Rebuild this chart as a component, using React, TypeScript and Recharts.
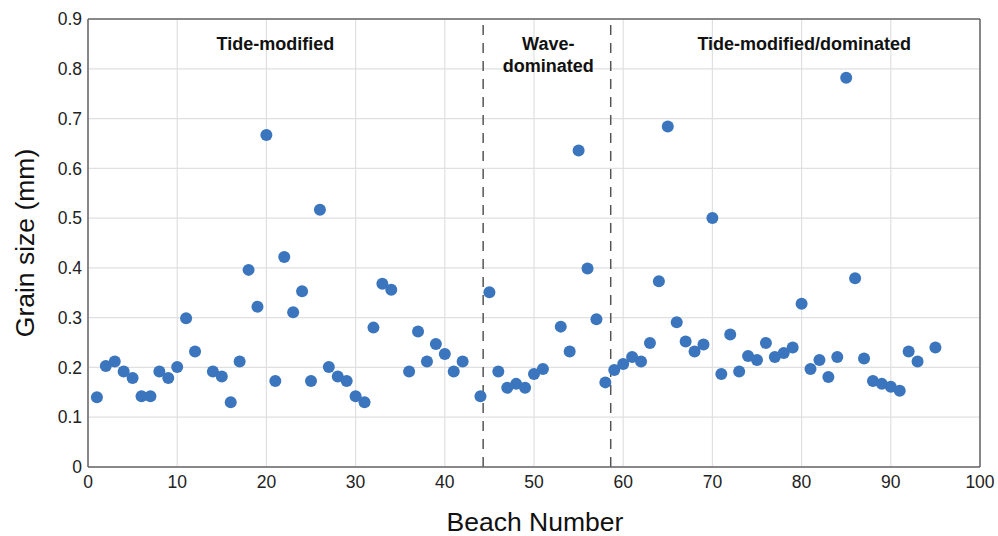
import React from 'react';
import {
  ScatterChart,
  Scatter,
  XAxis,
  YAxis,
  CartesianGrid,
  ReferenceLine,
  ReferenceDot,
  Label,
} from 'recharts';

const beachNumbers = [
  1, 2, 3, 4, 5, 6, 7, 8, 9, 10, 11, 12, 14, 15, 16, 17, 18, 19, 20, 21, 22, 23, 24, 25, 26, 27, 28, 29, 30, 31,
  32, 33, 34, 36, 37, 38, 39, 40, 41, 42, 44, 45, 46, 47, 48, 49, 50, 51, 53, 54, 55, 56, 57, 58, 59, 60, 61, 62,
  63, 64, 65, 66, 67, 68, 69, 70, 71, 72, 73, 74, 75, 76, 77, 78, 79, 80, 81, 82, 83, 84, 85, 86, 87, 88, 89, 90,
  91, 92, 93, 95,
];

const grainSizes = [
  0.14, 0.203, 0.212, 0.192, 0.179, 0.142, 0.142, 0.192, 0.179, 0.201, 0.299, 0.232, 0.192, 0.182, 0.13, 0.212,
  0.396, 0.322, 0.667, 0.173, 0.422, 0.311, 0.353, 0.173, 0.517, 0.201, 0.182, 0.173, 0.142, 0.13,
  0.28, 0.368, 0.356, 0.192, 0.272, 0.212, 0.247, 0.227, 0.192, 0.212, 0.142, 0.351, 0.192, 0.159, 0.167, 0.159,
  0.187, 0.197, 0.282, 0.232, 0.636, 0.399, 0.297, 0.17, 0.195, 0.207, 0.221, 0.212,
  0.249, 0.373, 0.684, 0.291, 0.252, 0.232, 0.246, 0.5, 0.187, 0.266, 0.192, 0.223, 0.215, 0.249, 0.221, 0.229,
  0.24, 0.328, 0.197, 0.215, 0.181, 0.221, 0.782, 0.379, 0.218, 0.173, 0.167, 0.161,
  0.153, 0.232, 0.212, 0.24,
];

const xTicks = [0, 10, 20, 30, 40, 50, 60, 70, 80, 90, 100];
const yTicks = [0, 0.1, 0.2, 0.3, 0.4, 0.5, 0.6, 0.7, 0.8, 0.9];
const yTickLabels = ['0', '0.1', '0.2', '0.3', '0.4', '0.5', '0.6', '0.7', '0.8', '0.9'];

const boundaries = [44.3, 58.6];

const regionLabels = [
  { x: 21, y: 0.85, lines: ['Tide-modified'] },
  { x: 51.6, y: 0.828, lines: ['Wave-', 'dominated'] },
  { x: 80.3, y: 0.85, lines: ['Tide-modified/dominated'] },
];

const data = beachNumbers.map((b, i) => ({ x: b, y: grainSizes[i] }));

const FONT = '"Liberation Sans", Arial, Helvetica, sans-serif';
const DOT = '#3a75bd';

const Dot = (props: any) => {
  const { cx, cy } = props;
  if (cx == null || cy == null) return null;
  return <circle cx={cx} cy={cy} r={6} fill={DOT} />;
};

const makeRegionLabel = (lines: string[]) => (props: any) => {
  const vb = props.viewBox || {};
  const cx = (vb.x ?? 0) + (vb.width ?? 0) / 2;
  const cy = (vb.y ?? 0) + (vb.height ?? 0) / 2;
  const lh = 22;
  const start = cy - ((lines.length - 1) * lh) / 2;
  return (
    <text
      x={cx}
      y={start}
      textAnchor="middle"
      dominantBaseline="central"
      fontFamily={FONT}
      fontWeight="bold"
      fontSize={18}
      fill="#111"
    >
      {lines.map((l, i) => (
        <tspan key={i} x={cx} y={start + i * lh} dominantBaseline="central">
          {l}
        </tspan>
      ))}
    </text>
  );
};

const YTitle = () => (
  <text
    x={25}
    y={243}
    transform="rotate(-90 25 243)"
    textAnchor="middle"
    dominantBaseline="central"
    fontFamily={FONT}
    fontSize={26.5}
    fill="#111"
  >
    Grain size (mm)
  </text>
);

const XTitle = () => (
  <text
    x={535}
    y={522}
    textAnchor="middle"
    dominantBaseline="central"
    fontFamily={FONT}
    fontSize={26.5}
    fill="#111"
  >
    Beach Number
  </text>
);

export default function App() {
  return (
    <div style={{ position: 'absolute', left: 0, top: 0, width: 998, height: 536, background: '#fff' }}>
      <ScatterChart
        width={998}
        height={536}
        margin={{ top: 19, right: 18, bottom: 39, left: 28 }}
        style={{ fontFamily: FONT }}
      >
        <CartesianGrid stroke="#e0e0e0" strokeWidth={1.2} />
        <XAxis
          type="number"
          dataKey="x"
          domain={[0, 100]}
          ticks={xTicks}
          interval={0}
          allowDataOverflow
          height={30}
          tickLine={false}
          tickMargin={3}
          axisLine={{ stroke: '#666', strokeWidth: 1.5 }}
          tick={{ fontSize: 17.5, fill: '#222', fontFamily: FONT }}
        >
          <Label content={<XTitle />} />
        </XAxis>
        <YAxis
          type="number"
          dataKey="y"
          domain={[0, 0.9]}
          ticks={yTicks}
          interval={0}
          allowDataOverflow
          width={60}
          tickLine={false}
          tickMargin={0}
          tickFormatter={(v: number) => yTickLabels[yTicks.indexOf(v)] ?? String(v)}
          axisLine={{ stroke: '#666', strokeWidth: 1.5 }}
          tick={{ fontSize: 17.5, fill: '#222', fontFamily: FONT }}
        >
          <Label content={<YTitle />} />
        </YAxis>
        <ReferenceLine y={0.9} stroke="#666" strokeWidth={1.5} />
        <ReferenceLine x={100} stroke="#666" strokeWidth={1.5} />
        {boundaries.map((b) => (
          <ReferenceLine key={b} x={b} stroke="#555" strokeWidth={1.5} strokeDasharray="10 8" />
        ))}
        {regionLabels.map((r, i) => (
          <ReferenceDot
            key={i}
            x={r.x}
            y={r.y}
            r={0}
            fill="none"
            stroke="none"
            label={makeRegionLabel(r.lines)}
          />
        ))}
        <Scatter data={data} isAnimationActive={false} shape={<Dot />} />
      </ScatterChart>
    </div>
  );
}
